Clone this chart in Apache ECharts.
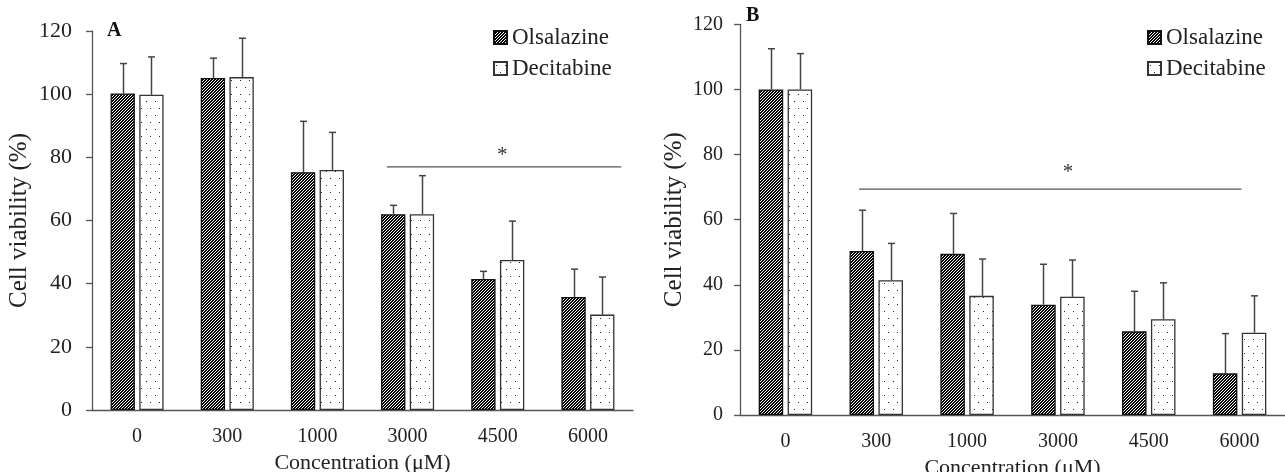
<!DOCTYPE html>
<html>
<head>
<meta charset="utf-8">
<script src="https://cdn.jsdelivr.net/npm/echarts@6/dist/echarts.min.js"></script>
<style>
html,body{margin:0;padding:0;background:#fff;}
#chart{width:1285px;height:472px;}
</style>
</head>
<body>
<div id="chart"></div>
<script>
// ---- data ----
const categories = ['0', '300', '1000', '3000', '4500', '6000'];
const yTicks = [0, 20, 40, 60, 80, 100, 120];
const seriesNames = ['Olsalazine', 'Decitabine'];
// Panel A
const olsA   = [100.2, 105.1, 75.3, 62.0, 41.5, 35.8];
const olsAsd = [9.5, 6.3, 16.1, 2.8, 2.4, 8.8];
const decA   = [99.8, 105.4, 76.0, 62.0, 47.5, 30.2];
const decAsd = [12.0, 12.3, 11.9, 12.2, 12.3, 11.9];
// Panel B
const olsB   = [100.0, 50.4, 49.5, 33.9, 25.7, 12.8];
const olsBsd = [12.5, 12.5, 12.4, 12.4, 12.3, 12.2];
const decB   = [100.0, 41.4, 36.6, 36.3, 29.4, 25.3];
const decBsd = [11.0, 11.3, 11.3, 11.3, 11.2, 11.3];
// significance brackets: [from, to, level, starX, starY] in category-index units
const sigA = [2.77, 5.37, 77, 4.05, 80.5];
const sigB = [0.81, 5.02, 69.4, 3.11, 74.5];

// ---- patterns ----
function hatch() {
  const c = document.createElement('canvas'); c.width = 3; c.height = 3;
  const g = c.getContext('2d');
  g.fillStyle = '#fff'; g.fillRect(0, 0, 3, 3);
  g.fillStyle = '#000';
  for (let y = 0; y < 3; y++) {
    g.fillRect((2 - y + 3) % 3, y, 1, 1);
    g.fillRect((3 - y) % 3, y, 1, 1);
  }
  return c;
}
function dots() {
  const c = document.createElement('canvas'); c.width = 9; c.height = 14;
  const g = c.getContext('2d');
  g.fillStyle = '#fff'; g.fillRect(0, 0, 9, 14);
  g.fillStyle = '#222';
  g.fillRect(2, 3, 1, 1);
  g.fillRect(6, 10, 1, 1);
  return c;
}
const hatchPat = { image: hatch(), repeat: 'repeat' };
const dotPat = { image: dots(), repeat: 'repeat' };

const FONT = 'Liberation Serif';
const BAR_W = 0.27, BAR_GAP = 0.18;
const LINE = '#444';

function errRender(sign) {
  return function (params, api) {
    const i = api.value(0), m = api.value(1), sd = api.value(2);
    const band = api.size([1, 0])[0];
    const bw = band * BAR_W;
    const off = sign * (bw + bw * BAR_GAP) / 2;
    const p0 = api.coord([i, m]);
    const p1 = api.coord([i, m + sd]);
    const x = Math.round(p0[0] + off) + 0.5;
    return {
      type: 'group',
      children: [
        { type: 'line', shape: { x1: x, y1: p0[1], x2: x, y2: p1[1] }, style: { stroke: LINE, lineWidth: 1.5 } },
        { type: 'line', shape: { x1: x - 3.5, y1: p1[1], x2: x + 3.5, y2: p1[1] }, style: { stroke: LINE, lineWidth: 1.5 } }
      ]
    };
  };
}
function sigRender(params, api) {
  const a = api.coord([api.value(0), api.value(2)]);
  const b = api.coord([api.value(1), api.value(2)]);
  const s = api.coord([api.value(3), api.value(4)]);
  return {
    type: 'group',
    children: [
      { type: 'line', shape: { x1: a[0], y1: a[1], x2: b[0], y2: b[1] }, style: { stroke: '#555', lineWidth: 1.3 } },
      { type: 'text', x: s[0], y: s[1], style: { text: '*', font: '21px "Liberation Serif"', fill: '#333', align: 'center', verticalAlign: 'middle' } }
    ]
  };
}

function barSeries(name, data, g, pat, border) {
  return {
    name: name, type: 'bar', xAxisIndex: g, yAxisIndex: g,
    data: data, barWidth: (BAR_W * 100) + '%', barGap: (BAR_GAP * 100) + '%',
    itemStyle: { color: pat, borderColor: border, borderWidth: 1.3 }
  };
}
function errSeries(mean, sd, g, sign) {
  return {
    type: 'custom', xAxisIndex: g, yAxisIndex: g, z: 5,
    renderItem: errRender(sign),
    data: categories.map((c, i) => [i, mean[i], sd[i]])
  };
}
function sigSeries(sig, g) {
  return {
    type: 'custom', xAxisIndex: g + 2, yAxisIndex: g, z: 6, clip: false,
    renderItem: sigRender,
    data: [sig]
  };
}

function yAxis(g, fs, margin, gap) {
  return {
    type: 'value', gridIndex: g, min: yTicks[0], max: yTicks[yTicks.length - 1], interval: yTicks[1] - yTicks[0],
    name: 'Cell viability (%)', nameLocation: 'middle', nameGap: gap,
    nameTextStyle: { fontFamily: FONT, fontSize: 25, color: '#222' },
    axisLine: { show: true, onZero: false, lineStyle: { color: '#555', width: 1.3 } },
    axisTick: { show: true, length: 6, lineStyle: { color: '#555', width: 1.3 } },
    splitLine: { show: false },
    axisLabel: { fontFamily: FONT, fontSize: fs, color: '#222', margin: margin }
  };
}
function xAxis(g, gap) {
  return {
    type: 'category', gridIndex: g, data: categories,
    name: 'Concentration (μM)', nameLocation: 'middle', nameGap: gap,
    nameTextStyle: { fontFamily: FONT, fontSize: 22, color: '#222' },
    axisLine: { onZero: false, lineStyle: { color: '#555', width: 1.3 } },
    axisTick: { show: false },
    axisLabel: { fontFamily: FONT, fontSize: 20, color: '#222', margin: 17 }
  };
}
function hiddenX(g) {
  return { type: 'value', gridIndex: g, min: -0.5, max: 5.5, show: false, axisLine: { onZero: false } };
}
function legend(left) {
  return {
    left: left, top: 26, orient: 'vertical', selectedMode: false,
    data: seriesNames, icon: 'rect', itemWidth: 13, itemHeight: 13, itemGap: 8,
    padding: 0,
    textStyle: { fontFamily: FONT, fontSize: 23, color: '#222' }
  };
}

const chart = echarts.init(document.getElementById('chart'), null, { renderer: 'canvas' });
chart.setOption({
  animation: false,
  backgroundColor: '#fff',
  title: [
    { text: 'A', left: 107, top: 21, padding: 0, textStyle: { fontFamily: FONT, fontWeight: 'bold', fontSize: 20, color: '#111' } },
    { text: 'B', left: 746, top: 6, padding: 0, textStyle: { fontFamily: FONT, fontWeight: 'bold', fontSize: 20, color: '#111' } }
  ],
  legend: [legend(493), legend(1147)],
  grid: [
    { left: 92, top: 31, width: 541, height: 379, containLabel: false, outerBoundsMode: 'none' },
    { left: 740, top: 24.3, right: 0, height: 390.7, containLabel: false, outerBoundsMode: 'none' }
  ],
  xAxis: [xAxis(0, 41), xAxis(1, 38), hiddenX(0), hiddenX(1)],
  yAxis: [yAxis(0, 22, 20, 60), yAxis(1, 20, 17, 53)],
  series: [
    barSeries(seriesNames[0], olsA, 0, hatchPat, '#111'),
    barSeries(seriesNames[1], decA, 0, dotPat, '#333'),
    errSeries(olsA, olsAsd, 0, -1),
    errSeries(decA, decAsd, 0, 1),
    barSeries(seriesNames[0], olsB, 1, hatchPat, '#111'),
    barSeries(seriesNames[1], decB, 1, dotPat, '#333'),
    errSeries(olsB, olsBsd, 1, -1),
    errSeries(decB, decBsd, 1, 1),
    sigSeries(sigA, 0),
    sigSeries(sigB, 1)
  ]
});
</script>
</body>
</html>
